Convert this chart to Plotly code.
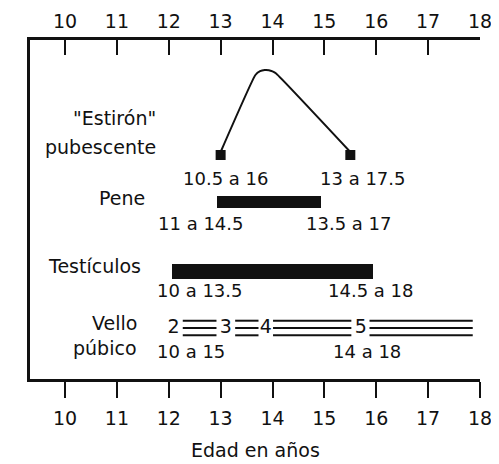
import plotly.graph_objects as go

# ---------------- data ----------------
age_ticks = [10, 11, 12, 13, 14, 15, 16, 17, 18]
tick_labels = [str(v) for v in age_ticks]

# "Estirón" pubescente curve (age, relative height)
spurt_x = [13.0, 13.67, 13.76, 13.85, 13.93, 14.0, 14.07, 15.5]
spurt_y = [227, 304, 307.8, 309, 308.8, 307.6, 305.5, 227]
spurt_marker_x = [13.0, 15.5]
spurt_marker_y = [224, 224]

# bars: Pene and Testículos
bar_names = ["Pene", "Testículos"]
bar_start = [12.93, 12.06]
bar_end = [14.93, 15.93]
bar_row = [177, 107.5]
bar_thickness = [12, 15.5]

# Vello púbico stages
stage_labels = ["2", "3", "4", "5"]
stage_label_x = [12.09, 13.10, 13.87, 15.70]
stage_start = [12.27, 13.28, 14.01, 15.87]
stage_end = [12.92, 13.73, 15.52, 17.86]
stage_row = 51
stage_line_offsets = [7.3, 0, -7.3]

# range labels (text, x centre, y)
range_text = ["10.5 a 16", "13 a 17.5", "11 a 14.5", "13.5 a 17",
              "10 a 13.5", "14.5 a 18", "10 a 15", "14 a 18"]
range_x = [13.10, 15.735, 12.61, 15.465, 12.60, 15.88, 12.43, 15.815]
range_y = [201, 201, 156, 156, 88.3, 88.3, 27.3, 27.3]

# row labels (text, right edge x, y)
row_text = ['"Estirón"', "pubescente", "Pene", "Testículos", "Vello", "púbico"]
row_x = [11.79, 11.79, 11.58, 11.51, 11.43, 11.43]
row_y = [261, 232.3, 181, 113, 56, 30.7]

x_title = "Edad en años"

INK = "#111111"
FONT = "DejaVu Sans"

fig = go.Figure()

# curve
fig.add_trace(go.Scatter(
    x=spurt_x, y=spurt_y, mode="lines",
    line=dict(color=INK, width=2, shape="spline", smoothing=0.4),
    hoverinfo="skip", showlegend=False))
fig.add_trace(go.Scatter(
    x=spurt_marker_x, y=spurt_marker_y, mode="markers",
    marker=dict(symbol="square", size=10, color=INK),
    hoverinfo="skip", showlegend=False))

# bars
fig.add_trace(go.Bar(
    orientation="h",
    y=bar_row,
    x=[e - s for s, e in zip(bar_start, bar_end)],
    base=bar_start,
    width=bar_thickness,
    marker=dict(color=INK, line=dict(width=0)),
    hoverinfo="skip", showlegend=False, name="bars"))

# pubic hair stage lines
lx, ly = [], []
for s, e in zip(stage_start, stage_end):
    for off in stage_line_offsets:
        lx += [s, e, None]
        ly += [stage_row + off, stage_row + off, None]
fig.add_trace(go.Scatter(
    x=lx, y=ly, mode="lines", line=dict(color=INK, width=2),
    hoverinfo="skip", showlegend=False))
fig.add_trace(go.Scatter(
    x=stage_label_x, y=[stage_row] * len(stage_labels), mode="text",
    text=stage_labels, textfont=dict(family=FONT, size=19, color=INK),
    textposition="middle center", hoverinfo="skip", showlegend=False))

# invisible trace for the top axis
fig.add_trace(go.Scatter(x=[age_ticks[0]], y=[0], xaxis="x2", mode="markers",
                         marker=dict(opacity=0), hoverinfo="skip",
                         showlegend=False))

for t, x, y in zip(range_text, range_x, range_y):
    fig.add_annotation(x=x, y=y, xref="x", yref="y", text=t, showarrow=False,
                       xanchor="center", yanchor="middle",
                       font=dict(family=FONT, size=18, color=INK))
for t, x, y in zip(row_text, row_x, row_y):
    fig.add_annotation(x=x, y=y, xref="x", yref="y", text=t, showarrow=False,
                       xanchor="right", yanchor="middle",
                       font=dict(family=FONT, size=19, color=INK))

fig.add_annotation(x=0.5, y=-0.245, xref="paper", yref="paper", text=x_title,
                   showarrow=False, xanchor="center", yanchor="bottom",
                   borderpad=0,
                   font=dict(family=FONT, size=19, color=INK))

axis_common = dict(
    range=[9.325, 18], tickvals=age_ticks, ticktext=tick_labels,
    showline=True, linewidth=3, linecolor=INK, tickcolor=INK, tickwidth=2,
    showgrid=False, zeroline=False, automargin=False,
    tickfont=dict(family=FONT, size=19, color=INK))

# the page body adds an 8px offset, so the figure is drawn 8px smaller
fig.update_layout(
    width=491, height=456,
    margin=dict(l=22, r=19, t=32, b=85, autoexpand=False),
    paper_bgcolor="white", plot_bgcolor="white",
    bargap=0,
    xaxis=dict(**axis_common, ticks="outside", ticklen=16, ticklabelstandoff=4),
    xaxis2=dict(**axis_common, overlaying="x", side="top", matches="x",
                ticks="inside", ticklen=15, ticklabelstandoff=1),
    yaxis=dict(range=[0, 339], showline=True, linewidth=3, linecolor=INK,
               ticks="", showticklabels=False, showgrid=False, zeroline=False,
               automargin=False),
)

fig.write_html("out.html")
